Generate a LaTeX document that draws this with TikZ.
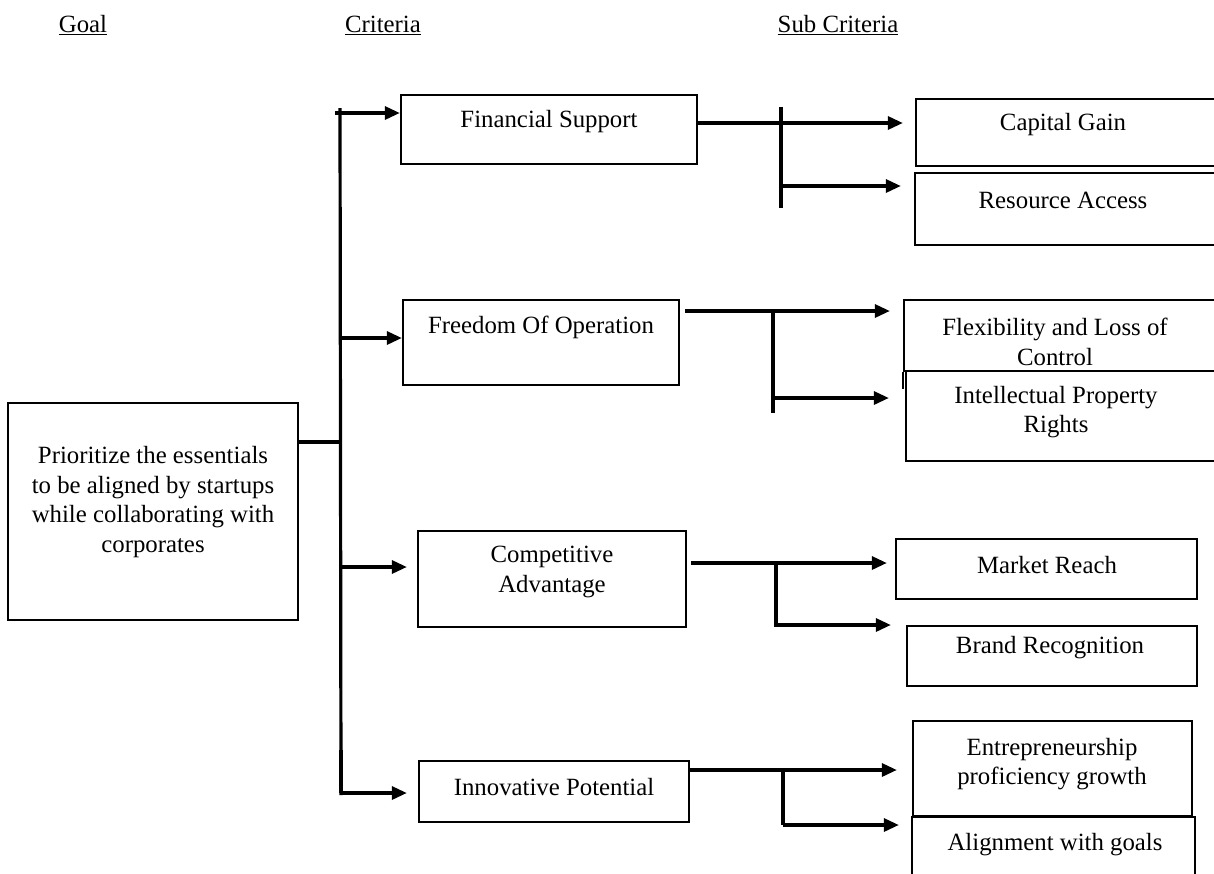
\documentclass[tikz,border=0pt]{standalone}
\usepackage{fontspec}
\setmainfont{Liberation Serif}
\usetikzlibrary{arrows.meta,fit}
\begin{document}
\begin{tikzpicture}[x=1pt,y=-1pt,
  box/.style={draw, line width=2.3pt, inner sep=0pt},
  lbl/.style={font=\fontsize{24.8}{29.5}\selectfont, align=center, inner sep=0pt},
  conn/.style={line width=3.2pt},
  arr/.style={conn, -{Triangle[length=15pt,width=13pt]}},
]
\useasboundingbox (0,0) rectangle (1214,873);
\clip (0,0) rectangle (1214,873);

% headers
\node[lbl] (hg) at (83,25) {\underline{Goal}};
\node[lbl] (hc) at (383,25) {\underline{Criteria}};
\node[lbl] (hs) at (838,25) {\underline{Sub Criteria}};

% boxes
\node[box, fit={(8,403) (298,620)}] (goal) {};
\node[box, fit={(401,95) (697,164)}] (fs) {};
\node[box, fit={(403,300) (679,385)}] (fo) {};
\node[box, fit={(418,531) (686,627)}] (ca) {};
\node[box, fit={(419,761) (689,822)}] (ip) {};
\node[box, fit={(916,99) (1240,166)}] (cg) {};
\node[box, fit={(915,173) (1240,245)}] (ra) {};
\node[box, fit={(904,300) (1240,371)}] (fl) {};
\node[box, fit={(906,371) (1240,461)}] (ipr) {};
\node[box, fit={(896,539) (1197,599)}] (mr) {};
\node[box, fit={(907,626) (1197,686)}] (br) {};
\node[box, fit={(913,721) (1192,816)}] (en) {};
\node[box, fit={(912,817) (1195,900)}] (al) {};
\draw[line width=2.3pt] (fl.south west) -- ++(0,17);

% labels
\node[lbl] (goal-t) at (153,502) {Prioritize the essentials\\to be aligned by startups\\while collaborating with\\corporates};
\node[lbl] (fs-t) at (549,122) {Financial Support};
\node[lbl] (fo-t) at (541,327) {Freedom Of Operation};
\node[lbl] (ca-t) at (552,572) {Competitive\\Advantage};
\node[lbl] (ip-t) at (554,787) {Innovative Potential};
\node[lbl] (cg-t) at (1063,125) {Capital Gain};
\node[lbl] (ra-t) at (1063,200) {Resource Access};
\node[lbl] (fl-t) at (1055,342) {Flexibility and Loss of\\Control};
\node[lbl] (ipr-t) at (1056,412) {Intellectual Property\\Rights};
\node[lbl] (mr-t) at (1047,565) {Market Reach};
\node[lbl] (br-t) at (1050,648) {Brand Recognition};
\node[lbl] (en-t) at (1052,764) {Entrepreneurship\\proficiency growth};
\node[lbl] (al-t) at (1055,845) {Alignment with goals};

% trunk from goal
\coordinate (tg) at (340,442);
\coordinate (ttop) at (340,108);
\coordinate (tbot) at (341,795);
\draw[conn] (tg -| goal.east) -- (tg);
\draw[conn] (ttop) -- (tbot);
\draw[line width=4.5pt] (341,750) -- (341,793);

\coordinate (a1) at (335,113);
\coordinate (a2) at (340,338);
\coordinate (a3) at (341,567);
\coordinate (a4) at (340,793);
\draw[arr] (a1) -- (a1 -| fs.west);
\draw[arr] (a2) -- (a2 -| fo.west);
\draw[arr, shorten >=10pt] (a3) -- (a3 -| ca.west);
\draw[arr, shorten >=11pt] (a4) -- (a4 -| ip.west);

% Financial Support branch
\coordinate (fsy) at (0,123);
\coordinate (fsv1) at (781,107);
\coordinate (fsv2) at (781,208);
\coordinate (fsb) at (782,186);
\draw[arr, shorten >=12pt] (fs.east |- fsy) -- (cg.west |- fsy);
\draw[conn] (fsv1) -- (fsv2);
\draw[arr, shorten >=13pt] (fsb) -- (fsb -| ra.west);

% Freedom Of Operation branch
\coordinate (foy) at (0,311);
\coordinate (fov1) at (773,311);
\coordinate (fov2) at (773,413);
\coordinate (fob) at (773,398);
\draw[arr, shorten <=5pt, shorten >=13pt] (fo.east |- foy) -- (fl.west |- foy);
\draw[conn] (fov1) -- (fov2);
\draw[arr, shorten >=16pt] (fob) -- (fob -| ipr.west);

% Competitive Advantage branch
\coordinate (cay) at (0,563);
\coordinate (cav1) at (776,562);
\coordinate (cav2) at (776,627);
\coordinate (cab) at (776,625);
\draw[arr, shorten <=4pt, shorten >=8pt] (ca.east |- cay) -- (mr.west |- cay);
\draw[conn] (cav1) -- (cav2);
\draw[arr, shorten >=15pt] (cab) -- (cab -| br.west);

% Innovative Potential branch
\coordinate (ipy) at (0,770);
\coordinate (ipv1) at (783,770);
\coordinate (ipv2) at (783,825);
\coordinate (ipb) at (783,825);
\draw[arr, shorten >=15pt] (ip.east |- ipy) -- (en.west |- ipy);
\draw[conn] (ipv1) -- (ipv2);
\draw[arr, shorten >=12pt] (ipb) -- (ipb -| al.west);
\end{tikzpicture}
\end{document}
